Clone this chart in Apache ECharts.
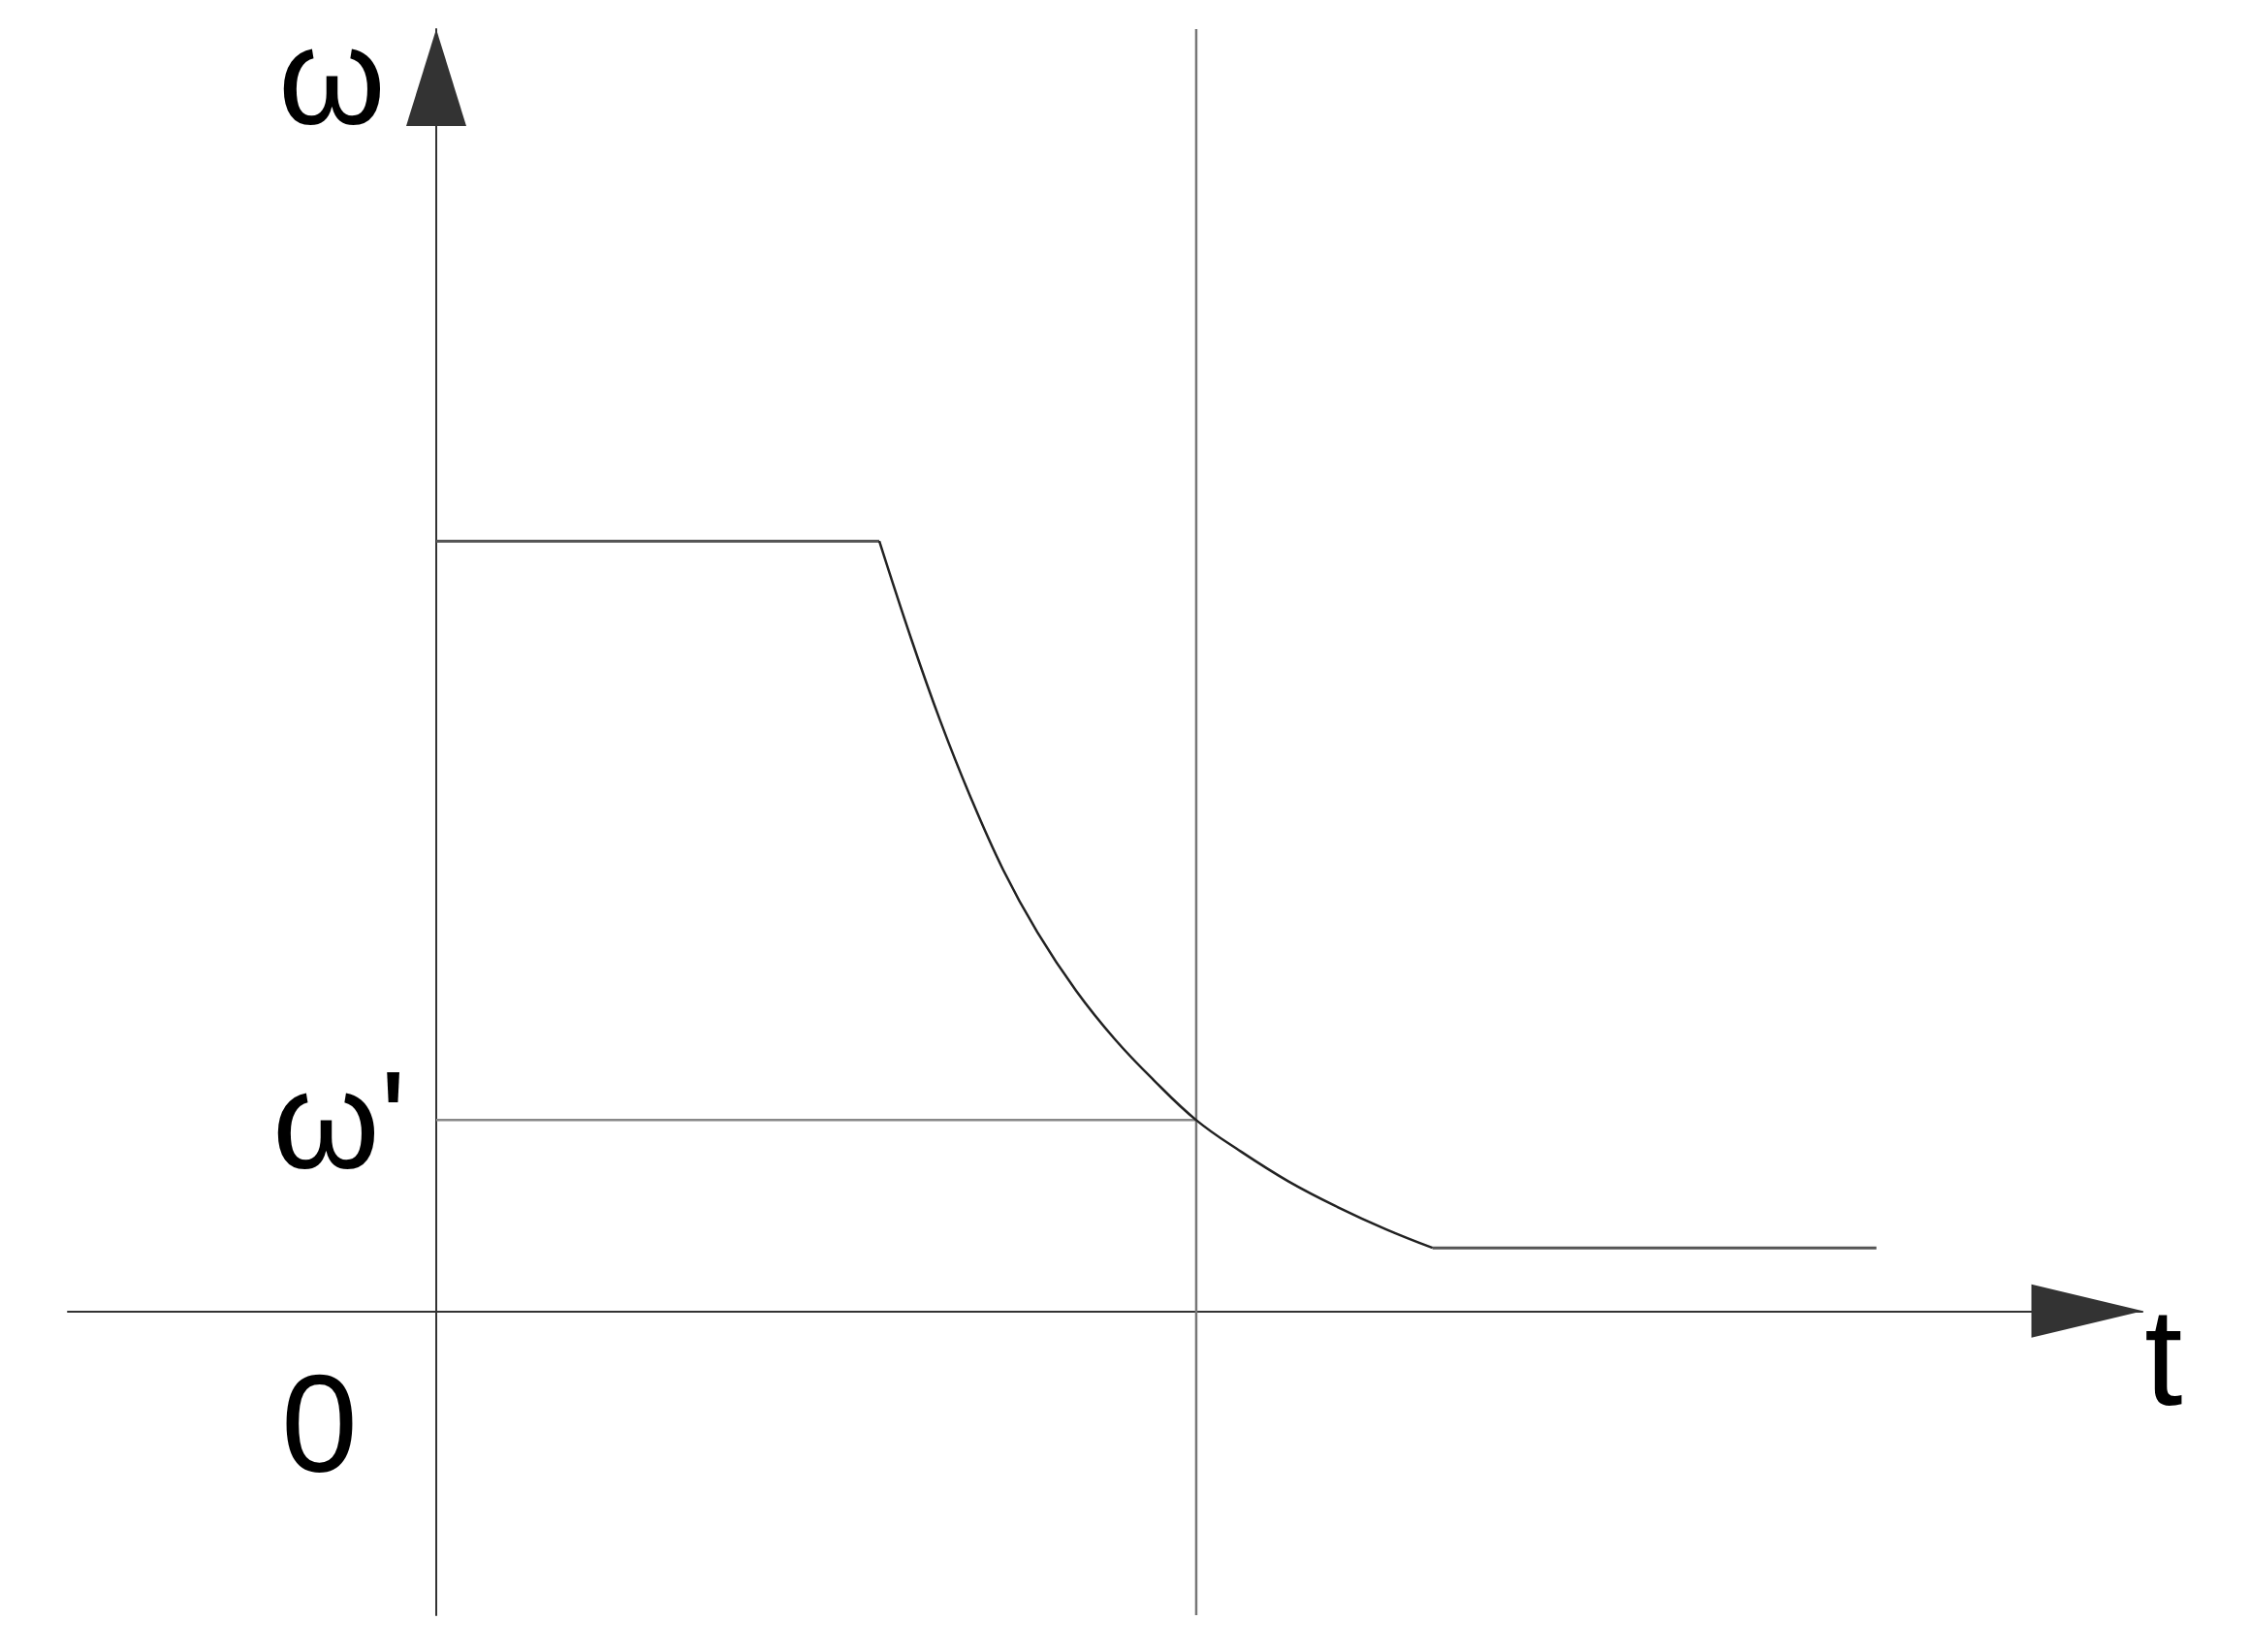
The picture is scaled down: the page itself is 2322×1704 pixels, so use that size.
<!DOCTYPE html>
<html>
<head>
<meta charset="utf-8">
<style>
  html, body { margin: 0; padding: 0; background: #fff; }
  #chart { width: 2322px; height: 1704px; }
</style>
<script src="https://cdn.jsdelivr.net/npm/echarts@6/dist/echarts.min.js"></script>
</head>
<body>
<div id="chart"></div>
<script>
  // speed ω over time t (arbitrary units)
  const omegaHigh = 10          // initial flat level
  const omegaPrime = 2.48       // ω' level
  const omegaLow = 0.82         // final flat level
  const tMark = 10              // vertical reference line
  const tFlatEnd = 5.83         // end of the initial plateau
  const tDecayEnd = 13.11       // start of the final plateau
  const tEnd = 18.95            // end of the final plateau

  // the decay between the two plateaus
  const curveT = [5.83, 6.25, 6.63, 7.02, 7.46, 7.91, 8.42, 8.93, 9.44, 10.0, 10.59, 11.22, 11.86, 12.5, 13.11]
  const curveW = [10.0, 8.73, 7.67, 6.70, 5.73, 4.92, 4.16, 3.53, 3.00, 2.48, 2.07, 1.68, 1.35, 1.06, 0.82]

  const xRange = [-4.847, 22.45]
  const yRange = [-3.95, 16.65]

  const font = '"Liberation Sans", Arial, sans-serif'
  const axisColor = '#333'

  const chart = echarts.init(document.getElementById('chart'))

  const option = {
    backgroundColor: '#fff',
    animation: false,
    grid: {
      left: 70, right: 112, top: 30, bottom: 38,
      containLabel: false,
      outerBoundsMode: 'none'
    },
    xAxis: {
      type: 'value',
      min: xRange[0],
      max: xRange[1],
      name: 't',
      nameLocation: 'end',
      nameGap: 2,
      nameTextStyle: {
        fontFamily: font, fontSize: 142, color: '#000',
        align: 'left', verticalAlign: 'top', lineHeight: 116
      },
      axisLine: {
        onZero: true,
        symbol: ['none', 'triangle'],
        symbolSize: [55, 115],
        symbolOffset: [0, -57],
        lineStyle: { color: axisColor, width: 2 }
      },
      axisTick: { show: false },
      splitLine: { show: false },
      // labels stay on the grid edge, so pull the origin label up under the axis
      axisLabel: {
        customValues: [0],
        formatter: () => '0',
        fontFamily: font, fontSize: 142, color: '#000',
        align: 'right', margin: -258, padding: [0, 81, 0, 0]
      }
    },
    yAxis: {
      type: 'value',
      min: yRange[0],
      max: yRange[1],
      name: 'ω',
      nameLocation: 'end',
      nameGap: -59,
      nameTextStyle: {
        fontFamily: font, fontSize: 142, color: '#000',
        align: 'right', verticalAlign: 'middle', padding: [0, 52, 0, 0]
      },
      axisLine: {
        onZero: true,
        symbol: ['none', 'triangle'],
        symbolSize: [62, 100],
        symbolOffset: [0, -50],
        lineStyle: { color: axisColor, width: 2 }
      },
      axisTick: { show: false },
      splitLine: { show: false },
      axisLabel: {
        customValues: [omegaPrime],
        formatter: () => "ω'",
        fontFamily: font, fontSize: 142, color: '#000',
        margin: -349, verticalAlign: 'top', lineHeight: 20
      }
    },
    series: [
      {
        // vertical reference line
        type: 'line',
        data: [[tMark, yRange[0]], [tMark, yRange[1]]],
        showSymbol: false,
        lineStyle: { color: '#777', width: 2.5 },
        z: 1
      },
      {
        // ω' guide
        type: 'line',
        data: [[0, omegaPrime], [tMark, omegaPrime]],
        showSymbol: false,
        lineStyle: { color: '#888', width: 2.5 },
        z: 1
      },
      {
        type: 'line',
        data: [[0, omegaHigh], [tFlatEnd, omegaHigh]],
        showSymbol: false,
        lineStyle: { color: '#555', width: 3 },
        z: 2
      },
      {
        type: 'line',
        data: curveT.map((t, i) => [t, curveW[i]]),
        smooth: 0.4,
        showSymbol: false,
        lineStyle: { color: '#222', width: 2.5 },
        z: 2
      },
      {
        type: 'line',
        data: [[tDecayEnd, omegaLow], [tEnd, omegaLow]],
        showSymbol: false,
        lineStyle: { color: '#555', width: 3 },
        z: 2
      }
    ]
  }

  chart.setOption(option)
</script>
</body>
</html>
